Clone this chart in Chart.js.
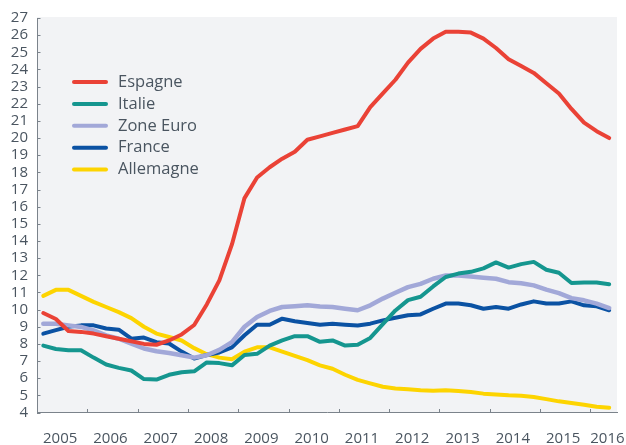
<!DOCTYPE html>
<html>
<head>
<meta charset="utf-8">
<script src="https://cdn.jsdelivr.net/npm/chart.js@4.4.1/dist/chart.umd.min.js"></script>
<style>
  html, body { margin: 0; padding: 0; background: #fff; }
  #wrap { width: 626px; height: 445px; }
</style>
</head>
<body>
<div id="wrap"><canvas id="chart" width="626" height="445"></canvas></div>
<script>
// quarterly unemployment rates, 2005T1 .. 2016T2
const yearLabels = [2005, 2006, 2007, 2008, 2009, 2010, 2011, 2012, 2013, 2014, 2015, 2016];

const espagne = [9.8, 9.45, 8.75, 8.7, 8.6, 8.45, 8.3, 8.15, 8.0, 7.95, 8.2, 8.55,
  9.1, 10.3, 11.7, 13.8, 16.5, 17.7, 18.3, 18.8, 19.2, 19.9, 20.1, 20.3,
  20.5, 20.7, 21.8, 22.6, 23.4, 24.4, 25.2, 25.8, 26.2, 26.2, 26.15, 25.8,
  25.25, 24.6, 24.2, 23.8, 23.2, 22.6, 21.7, 20.9, 20.4, 20.0];

const italie = [7.9, 7.7, 7.63, 7.63, 7.2, 6.8, 6.6, 6.45, 5.95, 5.92, 6.2, 6.35,
  6.4, 6.92, 6.88, 6.75, 7.35, 7.42, 7.9, 8.2, 8.45, 8.45, 8.12, 8.2,
  7.9, 7.95, 8.35, 9.15, 9.95, 10.55, 10.75, 11.35, 11.9, 12.1, 12.2, 12.4,
  12.75, 12.45, 12.65, 12.78, 12.32, 12.15, 11.55, 11.58, 11.58, 11.48];

const zoneEuro = [9.18, 9.18, 9.08, 8.99, 8.79, 8.5, 8.3, 8.02, 7.73, 7.57, 7.47, 7.34,
  7.2, 7.34, 7.65, 8.1, 9.0, 9.57, 9.92, 10.15, 10.2, 10.25, 10.18, 10.15,
  10.05, 9.96, 10.25, 10.64, 10.98, 11.31, 11.5, 11.8, 11.99, 11.99, 11.93, 11.86,
  11.8, 11.6, 11.54, 11.41, 11.16, 10.96, 10.67, 10.54, 10.35, 10.09];

const france = [8.6, 8.8, 9.0, 9.08, 9.08, 8.9, 8.83, 8.3, 8.37, 8.1, 8.02, 7.55,
  7.15, 7.35, 7.5, 7.8, 8.5, 9.12, 9.12, 9.47, 9.32, 9.22, 9.12, 9.18,
  9.12, 9.07, 9.18, 9.37, 9.52, 9.67, 9.72, 10.05, 10.35, 10.35, 10.25, 10.05,
  10.15, 10.05, 10.3, 10.48, 10.35, 10.35, 10.48, 10.25, 10.19, 9.96];

const allemagne = [10.8, 11.15, 11.15, 10.8, 10.45, 10.15, 9.85, 9.5, 9.0, 8.6, 8.4, 8.2,
  7.75, 7.4, 7.2, 7.1, 7.55, 7.8, 7.8, 7.55, 7.3, 7.05, 6.75, 6.55,
  6.2, 5.9, 5.7, 5.5, 5.4, 5.35, 5.3, 5.27, 5.3, 5.25, 5.2, 5.1,
  5.05, 5.0, 4.97, 4.9, 4.78, 4.65, 4.55, 4.45, 4.33, 4.28];

const seriesNames = ['Espagne', 'Italie', 'Zone Euro', 'France', 'Allemagne'];
const seriesColors = ['#ea4236', '#15968f', '#a2a8d8', '#0b52a3', '#fdd400'];
const seriesData = [espagne, italie, zoneEuro, france, allemagne];

const textColor = '#4a5560';
const axisColor = '#7b838b';

// each quarter sits in the middle of its quarter on a continuous year axis
function toPoints(values) {
  return values.map((v, i) => ({ x: 2005 + (i + 0.5) / 4, y: v }));
}

const datasets = seriesData.map((vals, k) => ({
  label: seriesNames[k],
  data: toPoints(vals),
  borderColor: seriesColors[k],
  borderWidth: k === 2 ? 4.5 : 4,
  pointRadius: 0,
  tension: 0,
  fill: false,
  borderJoinStyle: 'round',
  borderCapStyle: 'round'
}));

const framePlugin = {
  id: 'frame',
  beforeDraw(chart) {
    const { ctx, chartArea: a } = chart;
    ctx.save();
    ctx.fillStyle = '#f2f3f5';
    ctx.fillRect(a.left, a.top - 1, a.right - a.left, a.bottom - a.top + 1);
    ctx.restore();
  },
  beforeDatasetsDraw(chart) {
    const { ctx, chartArea: a, scales } = chart;
    ctx.save();
    ctx.strokeStyle = axisColor;
    ctx.lineWidth = 1;
    ctx.beginPath();
    // small inward tick marks
    scales.y.ticks.forEach(t => {
      const y = Math.round(scales.y.getPixelForValue(t.value)) + 0.5;
      ctx.moveTo(a.left, y);
      ctx.lineTo(a.left + 3.5, y);
    });
    yearLabels.slice(1).forEach(yr => {
      const x = Math.round(scales.x.getPixelForValue(yr)) + 0.5;
      ctx.moveTo(x, a.bottom);
      ctx.lineTo(x, a.bottom - 3.5);
    });
    ctx.stroke();
    ctx.restore();
  },
  afterDatasetsDraw(chart) {
    // legend inside the plot
    const { ctx } = chart;
    ctx.save();
    ctx.font = '16.5px "Open Sans"';
    ctx.textBaseline = 'middle';
    chart.data.datasets.forEach((ds, i) => {
      const y = 82 + i * 21.9;
      ctx.strokeStyle = ds.borderColor;
      ctx.lineWidth = 4;
      ctx.lineCap = 'round';
      ctx.beginPath();
      ctx.moveTo(74, y);
      ctx.lineTo(106, y);
      ctx.stroke();
      ctx.fillStyle = textColor;
      ctx.fillText(ds.label, 118, y);
    });
    ctx.restore();
  }
};

new Chart(document.getElementById('chart'), {
  type: 'line',
  data: { datasets },
  options: {
    responsive: false,
    animation: false,
    layout: { padding: { top: 16.5, right: 9, left: 0, bottom: 0 } },
    plugins: {
      legend: { display: false },
      tooltip: { enabled: false }
    },
    scales: {
      x: {
        type: 'linear',
        min: 2005,
        max: 2016.53,
        afterBuildTicks(scale) {
          scale.ticks = yearLabels.map((yr, i) => ({
            value: i === yearLabels.length - 1 ? yr + 0.34 : yr + 0.46
          }));
        },
        afterFit(scale) { scale.height = 32.5; },
        grid: { display: false, drawTicks: true, tickLength: 17 },
        border: { display: true, color: axisColor, width: 1 },
        ticks: {
          autoSkip: false,
          maxRotation: 0,
          padding: 0,
          color: textColor,
          font: { family: 'Open Sans', size: 15 },
          callback: (v) => String(Math.floor(v))
        }
      },
      y: {
        min: 4,
        max: 27,
        afterFit(scale) { scale.width = 37; },
        grid: { display: false, drawTicks: false },
        border: { display: true, color: axisColor, width: 1 },
        ticks: {
          stepSize: 1,
          autoSkip: false,
          padding: 9,
          color: textColor,
          font: { family: 'Open Sans', size: 15 }
        }
      }
    }
  },
  plugins: [framePlugin]
});
</script>
</body>
</html>
